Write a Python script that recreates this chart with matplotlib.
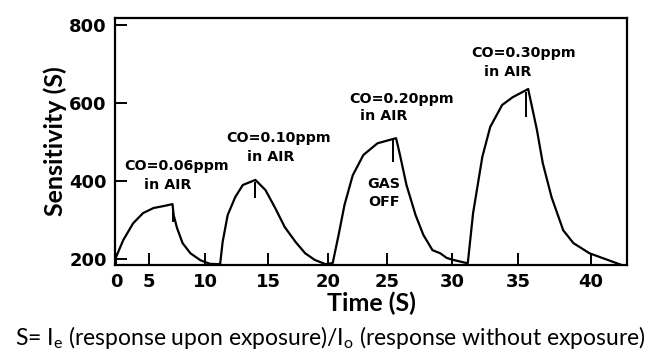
import numpy as np
from matplotlib import pyplot as plt

# trace: time (s) vs sensitivity
time_s = [0.0, 1.1, 2.6, 4.1, 5.4, 6.3, 7.1, 7.2, 7.5, 8.0, 8.7, 9.6, 10.4, 11.2,
          11.4, 11.8, 12.4, 13.0, 14.0, 14.8, 15.6, 16.4, 17.3, 18.1, 18.9, 19.8, 20.4,
          20.9, 21.4, 22.1, 23.0, 24.2, 25.7, 26.0, 26.5, 27.2, 27.8, 28.5, 29.1, 29.6, 30.1, 31.1,
          31.2, 31.6, 32.3, 32.9, 33.8, 34.6, 35.7, 36.3, 36.7, 37.3, 38.1, 38.8, 39.9, 42.1]
sensitivity = [205, 249, 292, 318, 331, 336, 341, 313, 280, 241, 215, 197, 188, 187,
               244, 313, 359, 390, 403, 377, 331, 282, 244, 215, 198, 187, 190,
               262, 339, 415, 467, 497, 510, 467, 390, 313, 262, 223, 215, 203, 198, 190,
               190, 318, 462, 539, 595, 615, 636, 531, 446, 359, 274, 241, 215, 185]

# "gas off" marks at the peaks
gasoff_t = [7.1, 14.0, 25.5, 35.55]
gasoff_top = [331, 397, 505, 628]
gasoff_bottom = [295, 356, 449, 564]

x_ticks = [0, 5, 10, 15, 20, 25, 30, 35, 40]
y_ticks = [200, 400, 600, 800]

# the hand drawn time axis is not evenly spaced; measured tick spacing
warp_t = [-10, 0, 5, 10, 15, 20, 25, 30, 35, 40, 50]
warp_u = [50, 116, 149, 205, 268, 328, 387, 452, 518, 591, 737]


def fwd(t):
    return np.interp(t, warp_t, warp_u)


def inv(u):
    return np.interp(u, warp_u, warp_t)


plt.rcParams['mathtext.fontset'] = 'custom'
plt.rcParams['mathtext.rm'] = 'Lato'

fig = plt.figure(figsize=(6.58, 3.58), dpi=100)
ax = fig.add_axes([0.1748, 0.2598, 0.7781, 0.6899])
ax.set_xscale('function', functions=(fwd, inv))

ax.plot(time_s, sensitivity, color='black', lw=1.6, solid_joinstyle='round')
ax.vlines(gasoff_t, gasoff_bottom, gasoff_top, color='black', lw=1.4)

ax.set_xlim(-0.15, 42.47)
ax.set_ylim(185, 818)
ax.set_xticks(x_ticks)
ax.set_yticks(y_ticks)
ax.xaxis.set_minor_locator(plt.NullLocator())

for s in ax.spines.values():
    s.set_linewidth(1.6)
ax.tick_params(direction='in', length=8.5, width=1.4, labelsize=13, pad=6)
for lab in ax.get_xticklabels() + ax.get_yticklabels():
    lab.set_fontweight('bold')

kw = dict(ha='center', va='center', fontsize=10.3, fontweight='bold')
ax.text(7.5, 438, 'CO=0.06ppm', **kw)
ax.text(6.7, 390, 'in AIR', **kw)
ax.text(15.9, 510, 'CO=0.10ppm', **kw)
ax.text(15.25, 461, 'in AIR', **kw)
ax.text(26.1, 610, 'CO=0.20ppm', **kw)
ax.text(24.7, 567, 'in AIR', **kw)
ax.text(35.4, 728, 'CO=0.30ppm', **kw)
ax.text(34.2, 680, 'in AIR', **kw)
ax.text(24.75, 392, 'GAS', **kw)
ax.text(24.75, 346, 'OFF', **kw)

ax.set_xlabel('Time (S)', family='Lato', fontsize=18, fontweight='bold', labelpad=0)
ax.set_ylabel('Sensitivity (S)', family='Lato', fontsize=18, fontweight='bold')
ax.yaxis.set_label_coords(-0.093, 0.5)

fig.text(0.5015, 0.056,
         r'S= I$_\mathrm{e}$ (response upon exposure)/I$_\mathrm{o}$ (response without exposure)',
         ha='center', va='center', family='Lato', fontsize=16.5)

fig.savefig('out.png', dpi=100)
